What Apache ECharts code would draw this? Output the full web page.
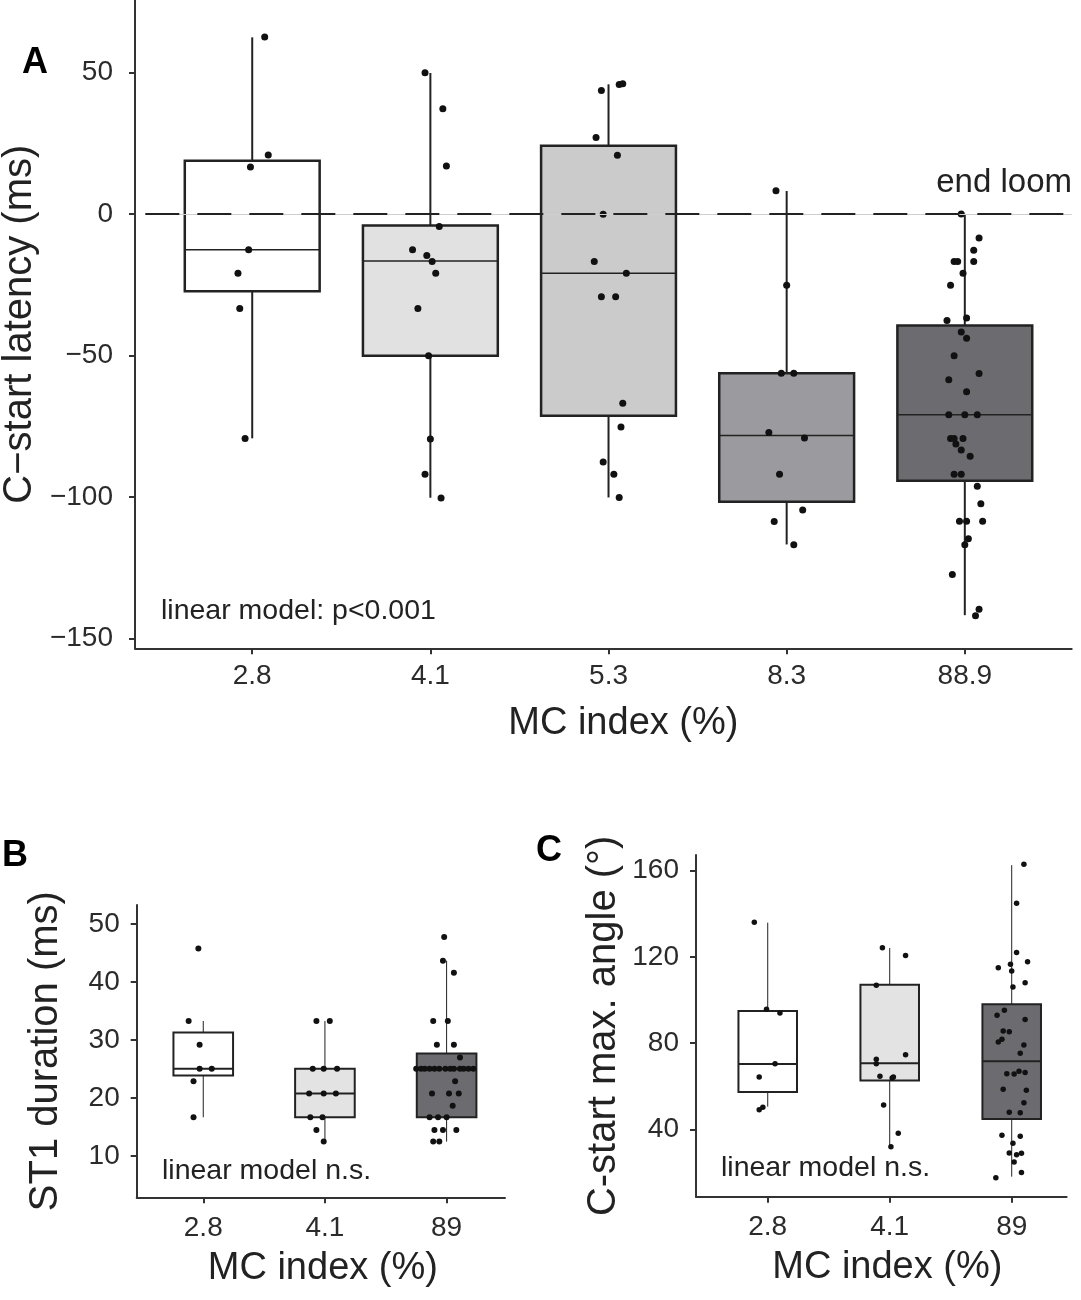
<!DOCTYPE html>
<html>
<head>
<meta charset="utf-8">
<title>C-start latency boxplots</title>
<script src="https://cdn.jsdelivr.net/npm/echarts@6/dist/echarts.min.js"></script>
<style>
  body { margin: 0; background: #fff; }
  #main { width: 1081px; height: 1300px; }
</style>
</head>
<body>
<div id="main"></div>
<script>
// group labels (MC index, %)
var groupsA = ['2.8', '4.1', '5.3', '8.3', '88.9'];
var groupsBC = ['2.8', '4.1', '89'];

// box statistics per group: [lower whisker, Q1, median, Q3, upper whisker]
var boxA = [
    [-79.3, -27.3, -12.7, 18.8, 62.4],
    [-100.3, -50.1, -16.6, -4.1, 49.8],
    [-100.2, -71.3, -21.0, 24.1, 45.8],
    [-116.8, -101.7, -78.3, -56.3, 8.1],
    [-141.8, -94.3, -71.0, -39.4, 0]
];
var boxB = [
    [16.7, 23.9, 25.05, 31.3, 33.3],
    [12.5, 16.7, 20.8, 25.05, 33.3],
    [12.5, 16.7, 25.05, 27.7, 43.7]
];
var boxC = [
    [50.5, 57.3, 70.3, 94.9, 135.9],
    [31.9, 62.6, 70.6, 107.1, 124.1],
    [18.0, 44.8, 71.6, 98.0, 162.6]
];

// jittered observations: [position in group units, value]
var ptsA = [
    [1.07, 62.5], [1.09, 20.8], [0.99, 16.6], [0.98, -12.7], [0.92, -21.0], [0.93, -33.4], [0.96, -79.4],
    [1.97, 49.9], [2.07, 37.2], [2.09, 16.9], [2.05, -4.4], [1.90, -12.7], [1.98, -14.7], [2.01, -16.8],
    [2.03, -21.0], [1.93, -33.4], [1.99, -50.1], [2.00, -79.5], [1.97, -92.0], [2.06, -100.4],
    [2.96, 43.6], [3.06, 45.7], [3.08, 46.0], [2.93, 27.0], [3.05, 20.7], [2.97, -0.1], [2.92, -16.8],
    [3.10, -21.0], [2.96, -29.3], [3.04, -29.3], [3.08, -66.9], [3.07, -75.3], [2.97, -87.7],
    [3.03, -92.0], [3.06, -100.2],
    [3.94, 8.2], [4.00, -25.2], [3.97, -56.3], [4.04, -56.3], [3.90, -77.2], [4.10, -79.2],
    [3.96, -92.0], [4.09, -104.6], [3.93, -108.7], [4.04, -116.9],
    [4.98, 0], [5.08, -8.5], [5.05, -12.8], [4.94, -16.8], [4.96, -16.8], [5.05, -16.8], [4.99, -21.0],
    [4.92, -25.2], [4.90, -37.7], [5.01, -36.8], [4.98, -41.7], [5.01, -43.9], [4.94, -50.1],
    [5.08, -56.4], [4.91, -58.6], [5.01, -62.8], [4.91, -71.0], [5.00, -71.0], [5.07, -71.0],
    [4.92, -79.4], [4.94, -79.4], [4.99, -79.4], [4.95, -81.3], [4.98, -83.4], [5.03, -85.6],
    [4.94, -92.0], [4.98, -92.0], [5.07, -96.2], [5.09, -102.4], [4.97, -108.6], [5.01, -108.6],
    [5.10, -108.6], [5.02, -114.8], [5.00, -116.9], [4.93, -127.4], [5.08, -139.7], [5.06, -142.0]
];
var ptsB = [
    [0.96, 45.8], [0.88, 33.3], [0.97, 29.2], [0.97, 25.05], [1.07, 25.05], [0.92, 22.9], [0.92, 16.7],
    [1.93, 33.3], [2.04, 33.3], [1.90, 25.05], [1.99, 25.05], [2.10, 25.05], [1.87, 20.8], [1.99, 20.8],
    [2.09, 20.8], [1.88, 16.7], [1.98, 16.7], [1.93, 14.5], [1.99, 12.5],
    [2.98, 47.8], [2.97, 43.7], [3.06, 41.6], [2.89, 33.3], [3.01, 33.3], [2.92, 29.2], [3.06, 29.2],
    [3.11, 27.0], [2.75, 25.05], [2.79, 25.05], [2.82, 25.05], [2.86, 25.05], [2.90, 25.05],
    [2.94, 25.05], [2.99, 25.05], [3.03, 25.05], [3.06, 25.05], [3.11, 25.05], [3.14, 25.05],
    [3.18, 25.05], [3.22, 25.05], [3.07, 22.9], [2.88, 20.8], [3.02, 20.8], [3.10, 20.8], [3.05, 18.7],
    [2.86, 16.7], [2.93, 16.7], [3.00, 16.7], [2.90, 14.5], [2.97, 14.5], [3.08, 14.5],
    [2.89, 12.5], [2.94, 12.5]
];
var ptsC = [
    [0.89, 136.1], [0.99, 95.7], [1.10, 94.0], [1.06, 70.4], [0.93, 64.3], [0.96, 50.2], [0.93, 49.1],
    [1.94, 124.3], [2.13, 120.6], [1.89, 106.8], [1.89, 72.5], [1.89, 70.4], [2.13, 74.6], [1.92, 64.6],
    [2.02, 63.8], [2.03, 64.3], [1.95, 51.3], [2.07, 38.1], [2.01, 31.9],
    [3.10, 163.0], [3.04, 144.9], [3.04, 122.1], [2.89, 115.0], [2.99, 116.6], [3.00, 113.5],
    [3.13, 117.8], [3.11, 108.0], [3.01, 106.0], [2.94, 95.2], [2.88, 92.9], [3.11, 91.0],
    [2.93, 85.6], [2.98, 85.3], [2.89, 80.5], [2.92, 81.8], [3.10, 79.1], [3.07, 75.3],
    [2.96, 65.8], [3.02, 65.7], [3.06, 66.9], [3.11, 66.4], [2.93, 58.6], [3.12, 58.1], [3.10, 52.3],
    [2.98, 47.9], [3.07, 47.7], [2.92, 37.2], [3.07, 36.8], [3.01, 33.5], [2.98, 29.0], [3.04, 28.2],
    [3.08, 28.9], [3.02, 24.8], [3.08, 19.9], [2.87, 17.5]
];

// y tick values
var ticksA = [-150, -100, -50, 0, 50];
var ticksB = [10, 20, 30, 40, 50];
var ticksC = [40, 80, 120, 160];

var fillsA = ['#ffffff', '#e1e1e1', '#cbcbcb', '#9b9b9f', '#6c6c70'];
var fillsBC = ['#ffffff', '#e3e3e3', '#6c6c70'];

var FONT = "'Liberation Sans', Arial, sans-serif";
var INK = '#222';
var AXIS = '#333';

function minus(v) {
    return v < 0 ? '\u2212' + Math.abs(v) : String(v);
}

function xAxisFor(grid, min, max, labels, margin, nameGap, shift) {
    var pos = labels.map(function (l, i) { return i + 1; });
    return {
        type: 'value', gridIndex: grid, min: min, max: max,
        splitLine: { show: false },
        axisLine: { show: true, onZero: false, lineStyle: { color: AXIS, width: 2 } },
        axisTick: { show: true, customValues: pos, length: 6, lineStyle: { color: AXIS, width: 2 } },
        axisLabel: {
            customValues: pos, margin: margin, fontSize: 28, color: '#2b2b2b', fontFamily: FONT,
            formatter: function (v) { return labels[Math.round(v) - 1]; }
        },
        name: 'MC index (%)', nameLocation: 'middle', nameGap: nameGap, nameMoveOverlap: false,
        nameTextStyle: { fontSize: 38, color: INK, fontFamily: FONT, padding: [0, 0, 0, shift] }
    };
}

function yAxisFor(grid, min, max, ticks, margin, name, nameGap) {
    return {
        type: 'value', gridIndex: grid, min: min, max: max,
        splitLine: { show: false },
        axisLine: { show: true, onZero: false, lineStyle: { color: AXIS, width: 2 } },
        axisTick: { show: true, customValues: ticks, length: 6, lineStyle: { color: AXIS, width: 2 } },
        axisLabel: { customValues: ticks, margin: margin, fontSize: 28, color: '#2b2b2b', fontFamily: FONT, formatter: minus },
        name: name, nameLocation: 'middle', nameGap: nameGap, nameMoveOverlap: false,
        nameTextStyle: { fontSize: 40, color: INK, fontFamily: FONT }
    };
}

// box + whiskers without end caps, drawn through the axes
function boxRenderer(width, fills, lw) {
    return function (params, api) {
        var x = api.value(0);
        var lo = api.value(1), q1 = api.value(2), md = api.value(3), q3 = api.value(4), hi = api.value(5);
        var tl = api.coord([x - width / 2, q3]);
        var br = api.coord([x + width / 2, q1]);
        var pHi = api.coord([x, hi]), pLo = api.coord([x, lo]);
        var pQ3 = api.coord([x, q3]), pQ1 = api.coord([x, q1]);
        var mL = api.coord([x - width / 2, md]), mR = api.coord([x + width / 2, md]);
        return {
            type: 'group',
            children: [
                { type: 'line', shape: { x1: pHi[0], y1: pHi[1], x2: pQ3[0], y2: pQ3[1] }, style: { stroke: INK, lineWidth: lw[0] } },
                { type: 'line', shape: { x1: pQ1[0], y1: pQ1[1], x2: pLo[0], y2: pLo[1] }, style: { stroke: INK, lineWidth: lw[0] } },
                { type: 'rect', shape: { x: tl[0], y: tl[1], width: br[0] - tl[0], height: br[1] - tl[1] },
                  style: { fill: fills[params.dataIndex], stroke: INK, lineWidth: lw[1] } },
                { type: 'line', shape: { x1: mL[0], y1: mL[1], x2: mR[0], y2: mR[1] }, style: { stroke: INK, lineWidth: lw[2] } }
            ]
        };
    };
}

function boxSeries(idx, stats, width, fills, lw) {
    return {
        type: 'custom', xAxisIndex: idx, yAxisIndex: idx, z: 2, silent: true,
        renderItem: boxRenderer(width, fills, lw),
        encode: { x: 0, y: [1, 2, 3, 4, 5] },
        data: stats.map(function (s, i) { return [i + 1].concat(s); })
    };
}

function pointSeries(idx, pts, size) {
    return {
        type: 'scatter', xAxisIndex: idx, yAxisIndex: idx, z: 3, silent: true,
        symbolSize: size, itemStyle: { color: '#111', opacity: 1 },
        data: pts
    };
}

var chart = echarts.init(document.getElementById('main'));

var lineSeries = pointSeries(0, ptsA, 7);
lineSeries.markLine = {
    silent: true, symbol: 'none', animation: false,
    label: { show: false },
    data: [
        [{ coord: [0.4, 0], lineStyle: { color: '#cfcfcf', width: 1, type: 'solid' } }, { coord: [5.6, 0] }],
        [{ coord: [0.4, 0], lineStyle: { color: INK, width: 2, type: [34, 18] } }, { coord: [5.6, 0] }]
    ]
};

chart.setOption({
    animation: false,
    backgroundColor: '#fff',
    grid: [
        { left: 135, top: 0, right: 9.3, bottom: 651.7, outerBoundsMode: 'none', containLabel: false },
        { left: 136.7, top: 905, right: 576, bottom: 102.7, outerBoundsMode: 'none', containLabel: false },
        { left: 696, top: 855, right: 14.4, bottom: 103.3, outerBoundsMode: 'none', containLabel: false }
    ],
    xAxis: [
        xAxisFor(0, 0.342, 5.6, groupsA, 14, 56, 40),
        xAxisFor(1, 0.453, 3.48, groupsBC, 17, 52, 4),
        xAxisFor(2, 0.412, 3.45, groupsBC, 17, 52, 12)
    ],
    yAxis: [
        yAxisFor(0, -153.5, 75.6, ticksA, 22, 'C\u2212start latency (ms)', 95),
        yAxisFor(1, 2.9, 53.3, ticksB, 17, 'ST1 duration (ms)', 71),
        yAxisFor(2, 8.7, 167.3, ticksC, 17, 'C-start max. angle (\u00b0)', 72)
    ],
    graphic: [
        { type: 'text', left: 22, top: 45, style: { text: 'A', font: 'bold 36px ' + FONT, fill: '#000' } },
        { type: 'text', left: 2, top: 838, style: { text: 'B', font: 'bold 36px ' + FONT, fill: '#000' } },
        { type: 'text', left: 536, top: 833, style: { text: 'C', font: 'bold 36px ' + FONT, fill: '#000' } },
        { type: 'text', right: 9, top: 166, style: { text: 'end loom', font: '33px ' + FONT, fill: INK } },
        { type: 'text', left: 161, top: 597, style: { text: 'linear model: p<0.001', font: '28.5px ' + FONT, fill: INK } },
        { type: 'text', left: 162, top: 1157, style: { text: 'linear model n.s.', font: '28.5px ' + FONT, fill: INK } },
        { type: 'text', left: 721, top: 1154, style: { text: 'linear model n.s.', font: '28.5px ' + FONT, fill: INK } }
    ],
    series: [
        boxSeries(0, boxA, 0.757, fillsA, [2, 2.5, 1.5]),
        lineSeries,
        boxSeries(1, boxB, 0.49, fillsBC, [1, 2, 2]),
        pointSeries(1, ptsB, 6),
        boxSeries(2, boxC, 0.48, fillsBC, [1, 2, 2]),
        pointSeries(2, ptsC, 5.5)
    ]
});
</script>
</body>
</html>
